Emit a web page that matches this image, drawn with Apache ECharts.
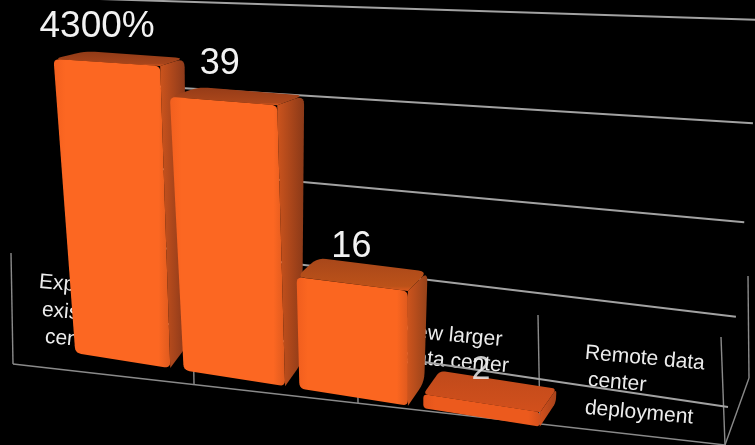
<!DOCTYPE html>
<html>
<head>
<meta charset="utf-8">
<style>
html,body{margin:0;padding:0;background:#000;overflow:hidden}
#c{width:755px;height:445px;filter:blur(0.55px)}
</style>
<script src="https://cdn.jsdelivr.net/npm/echarts@6/dist/echarts.min.js"></script>
</head>
<body>
<div id="c"></div>
<script>
// ---- data ----
const categories = ['Expansion of existing data center', '', 'New larger data center', 'Remote data center deployment'];
const barValues = [43, 39, 16, 2];
const valueLabels = ['4300%', '39', '16', '2'];
const gridValues = [10, 20, 30, 40, 50];
const labelLines = [['Expansion of', 'existing data', 'center'], [], ['New larger', 'data center'], ['Remote data', 'center', 'deployment']];

// ---- layout of the tilted 3D scene (screen-space projection constants) ----
const VMAX = 50;
const frontQuad = [[69, 352], [548, 428], [560, 35], [43, 7]];
const backQuad = [[87, 329], [564, 404], [584, 31], [78, 3]];
const wallEnds = {left: [[100, 314], [100, -1]], right: [[728, 407], [762, 20]], warp: -0.09};
const labelAnchors = [
  [[39, 282], [42, 310], [45, 337]],
  [],
  [[401, 331], [404, 357]],
  [[585, 353], [588, 380], [585, 408]]
];
const labelOffsets = [[-6, -36], [-3, -37], [0, -37], [0, -33]];
const labelSizes = [37, 36, 36, 34];
const topRightLean = [6, 0, 0, 0];
const barFill = [
  {front: '#FC6722', edge: '#F2601F', top: '#A8451B', topB: '#923B17', side: '#CC541D', sideB: '#86371A', seam: '#DE5A1E'},
  {front: '#FC6722', edge: '#F2601F', top: '#AC471B', topB: '#963C18', side: '#CC541D', sideB: '#8A3918', seam: '#DE5A1E'},
  {front: '#FB6620', edge: '#F05E1E', top: '#BC5219', topB: '#A8471A', side: '#CC541D', sideB: '#96421A', seam: '#DE5A1E'},
  {front: '#EC5A1D', edge: '#E2541C', top: '#CF4F1C', topB: '#C04A1B', side: '#D2501C', sideB: '#A8421A', seam: '#D2501C'}
];
const frameLines = [
  [[11, 253], [13, 364]], [[13, 364], [725, 445]],
  [[192, 275], [194, 384]], [[357, 294], [358, 403]],
  [[538, 315], [540, 424]], [[721, 337], [725, 445]],
  [[748, 276], [749, 378]], [[749, 378], [725, 445]]
];

function makeHomography(q) {
  const [x0, y0] = q[0], [x1, y1] = q[1], [x2, y2] = q[2], [x3, y3] = q[3];
  const dx1 = x1 - x2, dx2 = x3 - x2, sx = x0 - x1 + x2 - x3;
  const dy1 = y1 - y2, dy2 = y3 - y2, sy = y0 - y1 + y2 - y3;
  const den = dx1 * dy2 - dx2 * dy1;
  const g = (sx * dy2 - dx2 * sy) / den, h = (dx1 * sy - sx * dy1) / den;
  const a = x1 - x0 + g * x1, b = x3 - x0 + h * x3, c = x0;
  const d = y1 - y0 + g * y1, e = y3 - y0 + h * y3, f = y0;
  return (u, v) => {
    const w = g * u + h * v + 1;
    return [(a * u + b * v + c) / w, (d * u + e * v + f) / w];
  };
}
const front = makeHomography(frontQuad);
const back = makeHomography(backQuad);

function norm(cs, p) {
  return [(p[0] - cs.x) / cs.width, (cs.y + cs.height - p[1]) / cs.height];
}
// pts: polygon vertices, rs: corner radius for each vertex
function roundPoly(pts, rs) {
  const out = [], n = pts.length;
  for (let i = 0; i < n; i++) {
    const p = pts[i], a = pts[(i + n - 1) % n], b = pts[(i + 1) % n], r = rs[i];
    if (!r) { out.push(p); continue; }
    const la = Math.hypot(a[0] - p[0], a[1] - p[1]), lb = Math.hypot(b[0] - p[0], b[1] - p[1]);
    const ra = Math.min(r, la / 2), rb = Math.min(r, lb / 2);
    const s = [p[0] + (a[0] - p[0]) * ra / la, p[1] + (a[1] - p[1]) * ra / la];
    const e = [p[0] + (b[0] - p[0]) * rb / lb, p[1] + (b[1] - p[1]) * rb / lb];
    for (let k = 0; k <= 5; k++) {
      const t = k / 5, m = 1 - t;
      out.push([m * m * s[0] + 2 * m * t * p[0] + t * t * e[0], m * m * s[1] + 2 * m * t * p[1] + t * t * e[1]]);
    }
  }
  return out;
}
function grad(x2, y2, stops) {
  return {type: 'linear', x: 0, y: 0, x2: x2, y2: y2,
    colorStops: stops.map(s => ({offset: s[0], color: s[1]}))};
}

function renderBar(params, api) {
  const i = api.value(0), val = api.value(1), cs = params.coordSys;
  const bw = api.size([1, 0])[0], half = bw * 0.44;
  const topC = api.coord([i, val]), botC = api.coord([i, 0]);
  const [uL, vT] = norm(cs, [topC[0] - half, topC[1]]);
  const [uR, vB] = norm(cs, [topC[0] + half, botC[1]]);
  const fTL = front(uL, vT), fTR = front(uR, vT), fBR = front(uR, vB), fBL = front(uL, vB);
  const bTL = back(uL, vT), bTR = back(uR, vT), bBR = back(uR, vB);
  fTR[0] += topRightLean[i];
  const c = barFill[i];
  const r = val < 5 ? 5 : 9, s = val < 5 ? 4 : 6;
  return {type: 'group', children: [
    {type: 'polygon', shape: {points: roundPoly([fTR, bTR, bBR, fBR], [0, r, r, 0])},
      style: {fill: grad(1, 0, [[0, c.side], [1, c.sideB]])}},
    {type: 'polygon', shape: {points: roundPoly([fTL, bTL, bTR, fTR], [r, r, r, 0])},
      style: {fill: grad(0, 1, [[0, c.topB], [0.85, c.top], [1, c.seam]])}},
    {type: 'polygon', shape: {points: roundPoly([fTL, fTR, fBR, fBL], [s, s, s, s])},
      style: {fill: grad(1, 0, [[0, c.edge], [0.1, c.front], [0.9, c.front], [1, c.seam]])}}
  ]};
}

function renderGrid(params, api) {
  const cs = params.coordSys;
  const t0 = norm(cs, api.coord([0, api.value(1)]))[1] * VMAX;
  const t = (t0 - 10) / 40, w = t + wallEnds.warp * t * (1 - t);
  const mix = (e) => [e[0][0] + (e[1][0] - e[0][0]) * w, e[0][1] + (e[1][1] - e[0][1]) * w];
  const a = mix(wallEnds.left), b = mix(wallEnds.right);
  return {type: 'line', shape: {x1: a[0], y1: a[1], x2: b[0], y2: b[1]},
    style: {stroke: '#a2a2a2', lineWidth: 2}};
}

function renderValueLabel(params, api) {
  const i = api.value(0), val = api.value(1), cs = params.coordSys;
  const [u, v] = norm(cs, api.coord([i, val]));
  const p = front(u, v), o = labelOffsets[i];
  return {type: 'text', x: p[0] + o[0], y: p[1] + o[1],
    style: {text: valueLabels[i], align: 'center', verticalAlign: 'middle',
      fill: i === 3 ? 'rgba(235,235,235,0.85)' : '#f2f2f2',
      font: labelSizes[i] + 'px "Liberation Sans", Arial, sans-serif'}};
}

function renderCategoryLabel(params, api) {
  const i = api.value(0);
  return {type: 'group', children: labelLines[i].map((t, k) => ({
    type: 'text', x: labelAnchors[i][k][0], y: labelAnchors[i][k][1], rotation: -0.09,
    style: {text: t, x: 0, y: 0, align: 'left', verticalAlign: 'middle', fill: '#ececec',
      font: '21px "Liberation Sans", Arial, sans-serif'}
  }))};
}

function renderFrame() {
  return {type: 'group', children: frameLines.map(l => ({
    type: 'line', shape: {x1: l[0][0], y1: l[0][1], x2: l[1][0], y2: l[1][1]},
    style: {stroke: '#8a8a8a', lineWidth: 1.4}
  }))};
}

const barData = barValues.map((v, i) => [i, v]);
const chart = echarts.init(document.getElementById('c'), null, {renderer: 'canvas'});
chart.setOption({
  backgroundColor: '#000',
  animation: false,
  grid: {left: 0, top: 0, width: 400, height: 400},
  xAxis: {type: 'category', data: categories, show: false},
  yAxis: {type: 'value', min: 0, max: VMAX, interval: 10, show: false},
  series: [
    {type: 'custom', z: 1, silent: true, clip: false, renderItem: renderFrame, data: [[0, 0]]},
    {type: 'custom', z: 2, silent: true, clip: false, renderItem: renderCategoryLabel, data: categories.map((c, i) => [i, 0])},
    {type: 'custom', z: 3, silent: true, clip: false, renderItem: renderGrid, data: gridValues.map(v => [0, v])},
    {type: 'custom', z: 4, silent: true, clip: false, renderItem: renderBar, data: barData},
    {type: 'custom', z: 5, silent: true, clip: false, renderItem: renderValueLabel, data: barData}
  ]
});
</script>
</body>
</html>
